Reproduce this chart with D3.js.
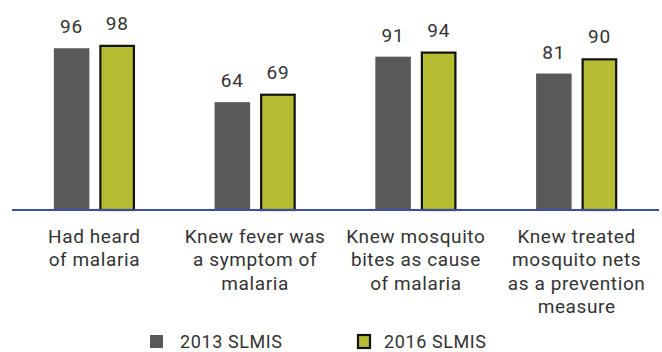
<!DOCTYPE html>
<html>
<head>
<meta charset="utf-8">
<script src="https://cdn.jsdelivr.net/npm/d3@7"></script>
<style>
  html, body { margin: 0; padding: 0; background: #fff; }
  svg { display: block; }
  text { font-family: Roboto, sans-serif; fill: #333; }
</style>
</head>
<body>
<div id="chart"></div>
<script>
const categories = [
  ["Had heard", "of malaria"],
  ["Knew fever was", "a symptom of", "malaria"],
  ["Knew mosquito", "bites as cause", "of malaria"],
  ["Knew treated", "mosquito nets", "as a prevention", "measure"]
];
const seriesNames = ["2013 SLMIS", "2016 SLMIS"];
const values2013 = [96, 64, 91, 81];
const values2016 = [98, 69, 94, 90];
const colors = ["#595959", "#b6bd32"];

const W = 662, H = 352;
const svg = d3.select("#chart").append("svg").attr("width", W).attr("height", H);

const catIdx = categories.map((d, i) => i);
const x0 = d3.scaleBand().domain(catIdx).range([14, 657]).padding(0);
const x1 = d3.scaleBand().domain([0, 1]).range([0, x0.bandwidth()]).paddingInner(0.22).paddingOuter(0.875);
const y = d3.scaleLinear().domain([0, 100]).range([210, 41.5]);

const data = catIdx.map(i => ({ i, vals: [values2013[i], values2016[i]] }));

const g = svg.append("g");
const groups = g.selectAll("g.grp").data(data).join("g")
  .attr("class", "grp")
  .attr("transform", d => `translate(${x0(d.i)},0)`);

groups.selectAll("rect").data(d => d.vals.map((v, s) => ({ v, s }))).join("rect")
  .attr("x", d => x1(d.s) + (d.s === 1 ? 1 : 0))
  .attr("y", d => y(d.v) + (d.s === 1 ? 1 : 0))
  .attr("width", d => x1.bandwidth() - (d.s === 1 ? 2 : 0))
  .attr("height", d => y(0) - y(d.v) - (d.s === 1 ? 1 : 0))
  .attr("fill", d => colors[d.s])
  .attr("stroke", d => d.s === 1 ? "#111" : "none")
  .attr("stroke-width", 2.2);

groups.selectAll("text.val").data(d => d.vals.map((v, s) => ({ v, s }))).join("text")
  .attr("class", "val")
  .attr("x", d => x1(d.s) + x1.bandwidth() / 2)
  .attr("y", d => y(d.v) - 15)
  .attr("text-anchor", "middle")
  .style("font-size", "19px")
  .style("letter-spacing", "0.8px")
  .text(d => d.v);

// baseline axis
const axis = d3.axisBottom(x0).tickSize(0).tickFormat("");
const axG = svg.append("g").attr("transform", `translate(0,${y(0)})`).call(axis);
axG.select(".domain").remove();
svg.append("line")
  .attr("x1", 12).attr("x2", 659)
  .attr("y1", y(0)).attr("y2", y(0))
  .attr("stroke", "#3b4ea3").attr("stroke-width", 2);

// category labels
const lab = svg.append("g").selectAll("text").data(catIdx).join("text")
  .attr("x", i => x0(i) + x0.bandwidth() / 2)
  .attr("y", 243)
  .attr("text-anchor", "middle")
  .style("font-size", "19px")
  .style("letter-spacing", "0.6px");
lab.selectAll("tspan").data(i => categories[i].map((t, k) => ({ t, k, i }))).join("tspan")
  .attr("x", d => x0(d.i) + x0.bandwidth() / 2)
  .attr("y", d => 243 + d.k * 23.4)
  .text(d => d.t);

// legend
const legendX = [150, 357];
const leg = svg.append("g").selectAll("g").data(seriesNames).join("g")
  .attr("transform", (d, i) => `translate(${legendX[i]},335)`);
leg.append("rect")
  .attr("x", (d, i) => i === 1 ? 1 : 0)
  .attr("y", 0)
  .attr("width", (d, i) => i === 1 ? 12 : 13)
  .attr("height", 13)
  .attr("fill", (d, i) => colors[i])
  .attr("stroke", (d, i) => i === 1 ? "#111" : "none")
  .attr("stroke-width", 2.2);
leg.append("text")
  .attr("x", (d, i) => i === 1 ? 27 : 30)
  .attr("y", 13)
  .style("font-size", "18px")
  .style("letter-spacing", "0.6px")
  .text(d => d);
</script>
</body>
</html>
